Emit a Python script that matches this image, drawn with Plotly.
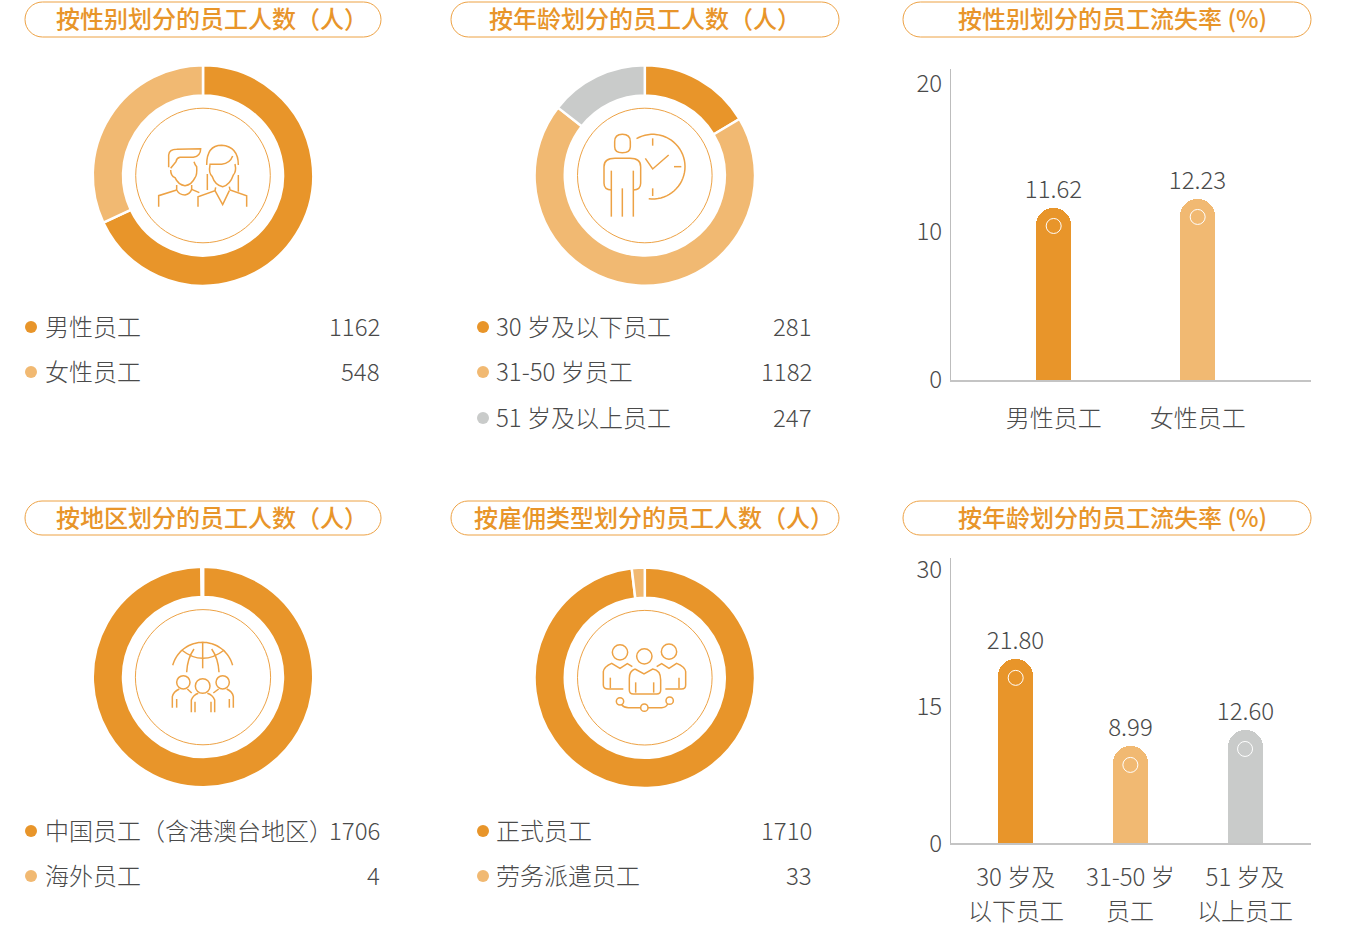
import re, math
import plotly.graph_objects as go

W, H = 1348, 928
ORANGE, LIGHT, GRAY = "#E8952A", "#F1B972", "#C9CBCA"
TEXT = "#4A4A4A"
FONT = "Noto Sans CJK SC"

# ---- data ----
gender_names = ["男性员工", "女性员工"]
gender_counts = [1162, 548]
age_names = ["30 岁及以下员工", "31-50 岁员工", "51 岁及以上员工"]
age_counts = [281, 1182, 247]
region_names = ["中国员工（含港澳台地区）", "海外员工"]
region_counts = [1706, 4]
type_names = ["正式员工", "劳务派遣员工"]
type_counts = [1710, 33]
gender_rate_cats = ["男性员工", "女性员工"]
gender_rate_labels = ["11.62", "12.23"]
gender_rate_values = [11.62, 12.23]
age_rate_cats_line1 = ["30 岁及", "31-50 岁", "51 岁及"]
age_rate_cats_line2 = ["以下员工", "员工", "以上员工"]
age_rate_labels = ["21.80", "8.99", "12.60"]
age_rate_heights = [20.2, 10.65, 12.4]   # bar heights as drawn in the picture

titles = ["按性别划分的员工人数（人）", "按年龄划分的员工人数（人）", "按性别划分的员工流失率 (%)",
          "按地区划分的员工人数（人）", "按雇佣类型划分的员工人数（人）", "按年龄划分的员工流失率 (%)"]


def px_x(x):
    return x / W


def px_y(y):
    return 1 - y / H


fig = go.Figure()


def add_pie(names, vals, cx, cy, colors):
    r = 110.25
    fig.add_trace(go.Pie(
        labels=names, values=vals, sort=False, direction="clockwise", rotation=0,
        hole=0.7256, textinfo="none", hoverinfo="label+value", showlegend=False,
        marker=dict(colors=colors, line=dict(color="white", width=2.5)),
        domain=dict(x=[px_x(cx - r), px_x(cx + r)], y=[px_y(cy + r), px_y(cy - r)]),
    ))


add_pie(gender_names, gender_counts, 203, 175.5, [ORANGE, LIGHT])
add_pie(age_names, age_counts, 644.8, 175.5, [ORANGE, LIGHT, GRAY])
add_pie(region_names, region_counts, 203, 677, [ORANGE, LIGHT])
add_pie(type_names, type_counts, 644.8, 677.8, [ORANGE, LIGHT])


def add_bars(cats, vals, labels, colors, xa, ya, width, circle_offset):
    xs = list(range(len(cats)))
    fig.add_trace(go.Bar(
        x=xs, y=vals, width=width, marker=dict(color=colors, cornerradius=17.5, line=dict(width=0)),
        text=labels, textposition="outside", cliponaxis=False, constraintext="none",
        textfont=dict(family=FONT, size=24, color=TEXT, weight=300), showlegend=False,
        xaxis=xa, yaxis=ya))
    fig.add_trace(go.Scatter(
        x=xs, y=[v - circle_offset for v in vals], mode="markers", showlegend=False, hoverinfo="skip",
        marker=dict(symbol="circle-open", size=15, color="white", line=dict(color="white", width=1)),
        xaxis=xa, yaxis=ya))


add_bars(gender_rate_cats, gender_rate_values, gender_rate_labels, [ORANGE, LIGHT], "x", "y", 0.243, 1.22)
add_bars(age_rate_cats_line1, age_rate_heights, age_rate_labels, [ORANGE, LIGHT, GRAY], "x2", "y2", 0.305, 2.05)

axis_font = dict(family=FONT, size=24, color=TEXT, weight=300)


def xaxis(rng, vals, text, standoff, anchor):
    return dict(domain=[px_x(951), px_x(1311)], range=rng, tickmode="array", tickvals=vals, ticktext=text,
                showgrid=False, zeroline=False, showline=True, linecolor="#C4C4C4", linewidth=1.5,
                ticks="", tickfont=axis_font, ticklabelstandoff=standoff, anchor=anchor, fixedrange=True,
                automargin=False)


def yaxis(rng, vals, top, bottom, anchor):
    return dict(domain=[px_y(bottom), px_y(top)], range=rng, tickmode="array", tickvals=vals,
                ticktext=[str(v) for v in vals], showgrid=False, zeroline=False, showline=True,
                linecolor="#BDBDBD", linewidth=1, ticks="", tickfont=axis_font, anchor=anchor, fixedrange=True,
                ticklabelstandoff=3, automargin=False)


shapes, annos = [], []
OV = dict(xref="x3", yref="y3")

# title pills
pills = [(25, 381, 2, 37), (451, 839, 2, 37), (903, 1311, 2, 37),
         (25, 381, 501, 535), (451, 839, 501, 535), (903, 1311, 501, 535)]
title_dx = [9, 0, 5.5, 9, 9, 5.5]
for t, (x0, x1, y0, y1), dx in zip(titles, pills, title_dx):
    rad = (y1 - y0) / 2
    k = rad * 0.5523
    d = (f"M{x0+rad} {y0} L{x1-rad} {y0} C{x1-rad+k} {y0} {x1} {y0+rad-k} {x1} {y0+rad} "
         f"C{x1} {y1-rad+k} {x1-rad+k} {y1} {x1-rad} {y1} L{x0+rad} {y1} "
         f"C{x0+rad-k} {y1} {x0} {y1-rad+k} {x0} {y0+rad} C{x0} {y0+rad-k} {x0+rad-k} {y0} {x0+rad} {y0} Z")
    shapes.append(dict(type="path", path=d, line=dict(color="#EDA245", width=1), **OV))
    annos.append(dict(text=t, x=(x0 + x1) / 2 + dx, y=(y0 + y1) / 2 - 1.8, xanchor="center", yanchor="middle",
                      showarrow=False, font=dict(family=FONT, size=24, color=ORANGE, weight=500), **OV))


def legend(names, vals, colors, dot_x, text_x, val_x, ys):
    for n, v, c, y in zip(names, vals, colors, ys):
        shapes.append(dict(type="circle", x0=dot_x - 6, x1=dot_x + 6, y0=y - 6, y1=y + 6,
                           fillcolor=c, line=dict(width=0), **OV))
        annos.append(dict(text=n, x=text_x, y=y - 2, xanchor="left", yanchor="middle", showarrow=False,
                          font=axis_font, **OV))
        annos.append(dict(text=str(v), x=val_x, y=y - 2, xanchor="right", yanchor="middle", showarrow=False,
                          font=axis_font, **OV))


legend(gender_names, gender_counts, [ORANGE, LIGHT], 31, 43, 382, [327, 372])
legend(age_names, age_counts, [ORANGE, LIGHT, GRAY], 483, 494, 814, [327, 372, 418])
legend(region_names, region_counts, [ORANGE, LIGHT], 31, 43, 382, [831, 876])
legend(type_names, type_counts, [ORANGE, LIGHT], 483, 494, 814, [831, 876])

# second line of the lower bar chart's category labels
for i, t in enumerate(age_rate_cats_line2):
    annos.append(dict(text=t, x=i, xref="x2", y=909, yref="y3", xanchor="center", yanchor="middle",
                      showarrow=False, font=axis_font))

# inner thin rings
for cx, cy, r in [(203, 175.5, 67.3), (644.8, 175.5, 67.3), (203, 677.2, 67.6), (644.8, 677.7, 67.3)]:
    shapes.append(dict(type="circle", x0=cx - r, x1=cx + r, y0=cy - r, y1=cy + r,
                       line=dict(color="#EDA245", width=1), **OV))


# icons: outlines given in 3x coordinates relative to an origin
def circ(cx, cy, r):
    k = r * 0.5523
    return (f"M{cx+r} {cy} C{cx+r} {cy+k} {cx+k} {cy+r} {cx} {cy+r} C{cx-k} {cy+r} {cx-r} {cy+k} {cx-r} {cy} "
            f"C{cx-r} {cy-k} {cx-k} {cy-r} {cx} {cy-r} C{cx+k} {cy-r} {cx+r} {cy-k} {cx+r} {cy}")


def arc(cx, cy, r, a0, a1, n=40):
    pts = []
    for i in range(n + 1):
        a = math.radians(a0 + (a1 - a0) * i / n)
        pts.append(f"{cx + r * math.sin(a):.1f} {cy - r * math.cos(a):.1f}")
    return "M" + " L".join(pts)


def icon(ox, oy, paths):
    for d in paths:
        idx = [0]

        def rep(m):
            v = float(m.group(0)) / 3 + (ox if idx[0] % 2 == 0 else oy)
            idx[0] += 1
            return f"{v:.2f}"
        shapes.append(dict(type="path", path=re.sub(r"-?\d+\.?\d*", rep, d),
                           line=dict(color="#EDA245", width=1.5), **OV))


icon(80, 50, [
    "M266 352 L266 315 Q268 298 290 298 L362 296 Q362 318 340 322 L300 322 Q290 324 288 335 L272 355",
    "M272 360 Q272 378 285 383 Q295 405 315 407 Q335 405 345 383 Q352 375 350 350 Q345 345 342 335",
    "M290 405 L290 420 Q298 435 315 435 Q330 433 335 418 L335 405",
    "M236 470 L236 437 L290 420", "M335 418 L358 428",
    "M380 345 Q380 286 425 286 Q475 290 475 345", "M388 343 L425 343 Q450 340 458 318",
    "M390 345 Q385 370 397 380 Q405 405 428 410 Q450 405 460 375 Q470 365 465 342",
    "M382 372 L382 420", "M475 375 L475 425",
    "M354 470 L354 440 L405 422 L407 412", "M500 470 L500 437 L450 420 L448 410",
    "M405 422 L428 464 L448 422",
])
icon(520, 50, [
    "M284 275 Q284 253 307 253 Q331 253 331 275 L331 290 Q331 308 307 308 Q284 308 284 290 Z",
    "M275 420 Q252 420 252 400 L252 350 Q252 325 285 325 L330 325 Q362 325 362 350 L362 400 Q362 420 340 420",
    "M274 500 L274 362", "M340 500 L340 362", "M307 500 L307 415",
    arc(398, 350, 97, -30, 187),
    "M398 265 L398 287", "M462 350 L484 350", "M398 415 L398 438",
    "M376 325 L398 357 L446 315",
])
icon(80, 555, [
    arc(368, 355, 93, -75, 75),
    "M305 285 Q368 335 433 285", "M368 262 L368 340",
    "M320 352 Q322 310 342 282", "M417 352 Q415 310 395 282",
    circ(310, 382, 20), circ(368, 393, 22), circ(428, 382, 20),
    "M334 472 L334 435 Q340 420 355 415", "M404 472 L404 435 Q398 420 382 415",
    "M345 472 L345 440", "M393 472 L393 440",
    "M277 458 L277 425 Q280 410 298 402", "M290 458 L290 432", "M322 402 L335 414",
    "M460 458 L460 425 Q458 410 440 402", "M448 458 L448 432", "M416 402 L400 414",
])
icon(520, 555, [
    circ(300, 292, 23), circ(373, 304, 23), circ(447, 290, 23),
    "M345 342 L372 357 L398 342 Q422 345 422 375 L422 405 Q422 417 410 417 L340 417 Q328 417 328 405 L328 370 Q328 348 345 342",
    "M347 413 L347 382", "M401 413 L401 382",
    "M310 402 L265 402 Q250 402 250 390 L250 350 Q252 335 275 325 L300 340 L322 326 L337 335",
    "M271 400 L271 368",
    "M436 402 L485 402 Q497 402 497 390 L497 350 Q495 335 470 325 L447 340 L425 326 L410 335",
    "M477 400 L477 368",
    circ(300, 439, 11), circ(373, 458, 11), circ(449, 437, 11),
    "M305 449 Q312 458 325 458 L362 458", "M384 458 L425 458 Q438 458 443 447",
])

fig.update_layout(
    width=W, height=H, margin=dict(l=0, r=0, t=0, b=0, autoexpand=False), paper_bgcolor="white", plot_bgcolor="rgba(0,0,0,0)",
    font=dict(family=FONT, color=TEXT),
    xaxis=xaxis([-0.713, 1.787], [0, 1], gender_rate_cats, 16, "y"),
    yaxis=yaxis([0, 21.0], [0, 10, 20], 69, 380, "x"),
    xaxis2=xaxis([-0.564, 2.575], [0, 1, 2], age_rate_cats_line1, 12, "y2"),
    yaxis2=yaxis([0, 31.3], [0, 15, 30], 558, 843.3, "x2"),
    xaxis3=dict(domain=[0, 1], range=[0, W], visible=False, anchor="y3", fixedrange=True, automargin=False),
    yaxis3=dict(domain=[0, 1], range=[H, 0], visible=False, anchor="x3", fixedrange=True, automargin=False),
    shapes=shapes, annotations=annos, bargap=0,
)
fig.add_trace(go.Scatter(x=[], y=[], xaxis="x3", yaxis="y3", showlegend=False))

fig.write_html("out.html", config={"displayModeBar": False}, post_script="document.body.style.margin='0';")
